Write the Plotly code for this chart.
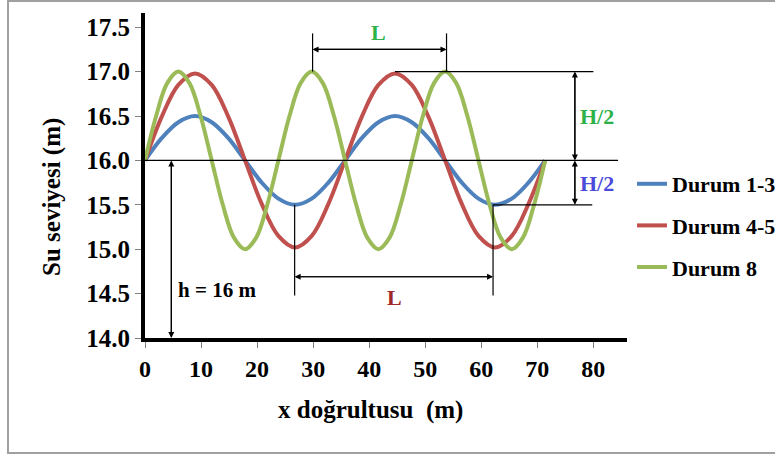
import plotly.graph_objects as go

# ---- data ----
x_long = [0.0, 2.975, 5.95, 8.925, 11.9, 14.875, 17.85, 20.825, 23.8, 26.775, 29.75, 32.725,
          35.7, 38.675, 41.65, 44.625, 47.6, 50.575, 53.55, 56.525, 59.5, 62.475, 65.45, 68.425, 71.4]
durum_1_3 = [16.0, 16.25, 16.43, 16.5, 16.43, 16.25, 16.0, 15.75, 15.57, 15.5, 15.57, 15.75,
             16.0, 16.25, 16.43, 16.5, 16.43, 16.25, 16.0, 15.75, 15.57, 15.5, 15.57, 15.75, 16.0]
durum_4_5 = [16.0, 16.49, 16.85, 16.98, 16.85, 16.49, 16.0, 15.51, 15.15, 15.02, 15.15, 15.51,
             16.0, 16.49, 16.85, 16.98, 16.85, 16.49, 16.0, 15.51, 15.15, 15.02, 15.15, 15.51, 16.0]
x_short = [0.0, 1.983, 3.967, 5.95, 7.933, 9.917, 11.9, 13.883, 15.867, 17.85, 19.833, 21.817,
           23.8, 25.783, 27.767, 29.75, 31.733, 33.717, 35.7, 37.683, 39.667, 41.65, 43.633, 45.617,
           47.6, 49.583, 51.567, 53.55, 55.533, 57.517, 59.5, 61.483, 63.467, 65.45, 67.433, 69.417, 71.4]
durum_8 = [16.0, 16.5, 16.87, 17.0, 16.87, 16.5, 16.0, 15.5, 15.13, 15.0, 15.13, 15.5,
           16.0, 16.5, 16.87, 17.0, 16.87, 16.5, 16.0, 15.5, 15.13, 15.0, 15.13, 15.5,
           16.0, 16.5, 16.87, 17.0, 16.87, 16.5, 16.0, 15.5, 15.13, 15.0, 15.13, 15.5, 16.0]
x_ticks = [0, 10, 20, 30, 40, 50, 60, 70, 80]
y_ticks = [14.0, 14.5, 15.0, 15.5, 16.0, 16.5, 17.0, 17.5]

FONT = "Liberation Serif"
BLUE, RED, GREEN = "#4F81BD", "#C0504D", "#9BBB59"

fig = go.Figure()
for xs, ys, nm, col in [(x_long, durum_1_3, "Durum 1-3", BLUE),
                        (x_long, durum_4_5, "Durum 4-5", RED),
                        (x_short, durum_8, "Durum 8", GREEN)]:
    fig.add_trace(go.Scatter(x=xs, y=ys, mode="lines", name="<b>%s</b>" % nm, legendgroup=nm,
                             line=dict(color=col, width=4, shape="spline")))

shapes = []
def seg(x0, y0, x1, y1):
    shapes.append(dict(type="line", xref="x", yref="y", x0=x0, y0=y0, x1=x1, y1=y1,
                       line=dict(color="black", width=1.2)))

seg(0, 16.0, 84.4, 16.0)          # still water level
seg(44.6, 17.0, 80.0, 17.0)        # crest level
seg(62.1, 15.5, 79.8, 15.5)        # trough level
seg(29.9, 17.0, 29.9, 17.43)       # top L markers
seg(53.8, 17.0, 53.8, 17.43)
seg(26.7, 15.5, 26.7, 14.48)       # bottom L markers
seg(62.1, 15.5, 62.1, 14.48)
# outer border
shapes.append(dict(type="rect", xref="paper", yref="paper", layer="below",
                   x0=(8 - 145) / 482, x1=800 / 482, y0=(338 - 453) / 325, y1=(338 - 1) / 325,
                   line=dict(color="#A0A0A0", width=2)))

anns = []
def darrow(x0, y0, x1, y1):
    for (ax_, ay_, xx, yy) in [(x0, y0, x1, y1), (x1, y1, x0, y0)]:
        anns.append(dict(x=xx, y=yy, ax=ax_, ay=ay_, xref="x", yref="y", axref="x", ayref="y",
                         showarrow=True, arrowhead=2, arrowsize=1, arrowwidth=1.2,
                         arrowcolor="black", text=""))

darrow(4.7, 16.0, 4.7, 14.0)
darrow(29.9, 17.25, 53.8, 17.25)
darrow(26.7, 14.69, 62.1, 14.69)
darrow(76.7, 17.0, 76.7, 16.0)
darrow(76.7, 16.0, 76.7, 15.5)

def txt(x, y, s, color="black", size=21, xanchor="center"):
    anns.append(dict(x=x, y=y, xref="x", yref="y", text="<b>%s</b>" % s, showarrow=False,
                     xanchor=xanchor, yanchor="middle",
                     font=dict(family=FONT, size=size, color=color)))

txt(5.6, 14.54, "h = 16 m", xanchor="left")
txt(41.6, 17.44, "L", color="#2DB24A", size=22)
txt(44.6, 14.46, "L", color="#A0282A", size=22)
txt(80.6, 16.49, "H/2", color="#2DB24A", size=22)
txt(80.6, 15.74, "H/2", color="#4A4ADB", size=22)

# axis titles as annotations for precise placement
anns.append(dict(xref="paper", yref="paper", x=(52 - 145) / 482, y=(338 - 197) / 325,
                 text="<b>Su seviyesi (m)</b>", textangle=-90, showarrow=False,
                 xanchor="center", yanchor="middle", font=dict(family=FONT, size=25, color="black")))
anns.append(dict(xref="paper", yref="paper", x=(370 - 145) / 482, y=(338 - 410) / 325,
                 text="<b>x doğrultusu  (m)</b>", showarrow=False,
                 xanchor="center", yanchor="middle", font=dict(family=FONT, size=25, color="black")))

fig.update_layout(
    width=775, height=456,
    margin=dict(l=145, r=148, t=13, b=118, autoexpand=False),
    paper_bgcolor="white", plot_bgcolor="white",
    showlegend=True,
    legend=dict(x=(632 - 145) / 482, y=(338 - 163) / 325, xanchor="left", yanchor="top",
                font=dict(family=FONT, size=22, color="black"), tracegroupgap=10,
                itemwidth=30, bgcolor="rgba(0,0,0,0)"),
    shapes=shapes, annotations=anns,
    xaxis=dict(range=[0, 86], tickvals=x_ticks, ticktext=["<b>%d</b>" % v for v in x_ticks],
               showgrid=False, zeroline=False, showline=True, linecolor="black", linewidth=4,
               ticks="outside", ticklen=6, tickcolor="#808080", tickwidth=1,
               tickfont=dict(family=FONT, size=24, color="black")),
    yaxis=dict(range=[14.0, 17.66], tickvals=y_ticks, ticktext=["<b>%.1f</b>" % v for v in y_ticks],
               showgrid=False, zeroline=False, showline=True, linecolor="black", linewidth=4,
               ticks="outside", ticklen=6, tickcolor="#808080", tickwidth=1,
               tickfont=dict(family=FONT, size=25, color="black")),
)

fig.write_html("out.html")
